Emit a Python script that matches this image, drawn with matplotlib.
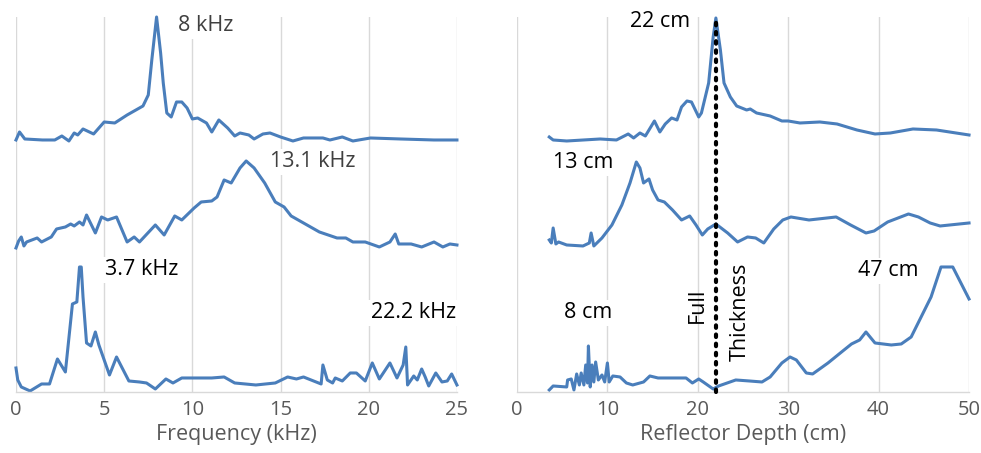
import matplotlib
matplotlib.use("Agg")
import matplotlib.pyplot as plt
import numpy as np

plt.rcParams['font.family'] = ['Open Sans', 'DejaVu Sans']

# ---------------- data (y in arbitrary display units, 0 = axis bottom) ----------------
freq_8k = [0.0, 0.2, 0.5, 1.5, 2.2, 2.6, 3.0, 3.3, 3.5, 3.8, 4.4, 5.0, 5.6, 6.3, 6.8, 7.2, 7.5, 7.7,
           7.97, 8.2, 8.35, 8.55, 8.8, 9.1, 9.4, 9.7, 10.0, 10.3, 10.8, 11.1, 11.5, 12.0, 12.4, 12.7,
           13.2, 13.5, 14.0, 14.4, 15.0, 15.7, 16.3, 17.4, 17.8, 18.5, 19.1, 20.1, 21.8, 23.7, 25.0]
amp_8k = [140, 132, 139, 140, 140, 136, 141, 133, 135, 129, 134, 122, 123, 115, 110, 106, 95, 60,
          17, 53, 83, 113, 117, 102, 102, 108, 119, 118, 123, 132, 120, 128, 136, 133,
          135, 139, 134, 133, 137, 141, 138, 138, 140, 137, 141, 138, 139, 140, 140]

freq_13k = [0.0, 0.15, 0.3, 0.45, 0.6, 1.2, 1.45, 2.0, 2.3, 2.8, 3.1, 3.3, 3.6, 3.8, 4.0, 4.5, 4.85,
            5.2, 5.7, 6.3, 6.7, 7.0, 7.9, 8.4, 9.0, 9.4, 10.1, 10.5, 11.1, 11.4, 11.8, 12.2, 12.7,
            13.05, 13.5, 14.1, 14.7, 15.2, 15.6, 16.5, 17.2, 18.2, 18.7, 19.1, 19.8, 20.6, 21.2,
            21.5, 21.7, 22.4, 23.0, 23.7, 24.2, 24.6, 25.0]
amp_13k = [248, 241, 237, 246, 242, 238, 242, 237, 229, 227, 224, 226, 222, 225, 215, 233, 217,
           220, 217, 242, 237, 242, 225, 235, 216, 220, 208, 202, 201, 197, 180, 183, 168,
           161, 168, 183, 202, 207, 216, 225, 232, 238, 238, 242, 242, 247, 242,
           234, 244, 244, 247, 242, 247, 244, 245]

freq_3k = [0.0, 0.1, 0.3, 0.8, 1.45, 1.9, 2.35, 2.8, 3.2, 3.45, 3.6, 3.7, 3.8, 4.0, 4.25, 4.5,
           4.7, 5.3, 5.7, 6.4, 7.0, 7.4, 7.9, 8.5, 8.9, 9.4, 10.4, 11.1, 11.8, 12.4, 13.6, 14.7,
           15.4, 15.9, 16.3, 17.3, 17.4, 17.65, 17.95, 18.1, 18.5, 18.95, 19.3, 19.8, 20.2, 20.6,
           20.9, 21.2, 21.6, 21.95, 22.1, 22.2, 22.55, 22.75, 23.0, 23.2, 23.4, 23.8, 24.15,
           24.45, 24.7, 25.0]
amp_3k = [368, 380, 387, 391, 384, 384, 359, 372, 304, 302, 267, 267, 297, 343, 346, 332,
          345, 375, 357, 381, 382, 383, 389, 379, 383, 378, 378, 378, 377, 383, 385, 383,
          377, 379, 377, 384, 365, 380, 383, 378, 381, 373, 373, 381, 363, 379,
          371, 363, 378, 365, 347, 385, 376, 380, 369, 377, 386, 373, 382,
          381, 374, 385]

depth_22 = [3.57, 4.0, 5.5, 9.2, 11.0, 12.3, 12.9, 13.6, 14.2, 15.2, 15.8, 16.4, 17.1, 17.7, 18.2,
            18.8, 19.3, 20.1, 20.4, 21.2, 21.7, 22.0, 22.5, 22.9, 23.6, 24.3, 25.4, 25.8, 26.5,
            28.0, 29.3, 30.0, 31.3, 33.5, 35.4, 37.6, 39.6, 41.3, 43.8, 46.4, 50.0]
amp_22 = [137, 140, 141, 139, 140, 134, 138, 133, 136, 121, 132, 124, 118, 120, 107,
          101, 102, 117, 113, 83, 37, 18, 50, 83, 97, 106, 110, 109, 113,
          116, 121, 121, 123, 122, 124, 130, 134, 133, 129, 130, 135]

depth_13 = [3.57, 3.8, 4.0, 4.3, 4.6, 5.5, 7.3, 8.0, 8.2, 8.5, 9.4, 10.5, 11.6, 12.5, 13.2, 13.6,
            14.0, 14.6, 15.0, 15.6, 16.3, 17.2, 18.2, 19.1, 19.8, 20.5, 21.1, 22.0, 23.3, 24.4,
            25.5, 26.4, 27.3, 28.4, 29.4, 30.3, 32.3, 35.3, 36.9, 38.6, 39.5, 41.0, 43.3, 44.4,
            45.7, 46.8, 50.0]
amp_13 = [240, 243, 228, 244, 242, 245, 246, 243, 233, 246, 238, 225, 205, 183, 162, 168,
          183, 179, 190, 200, 202, 210, 220, 216, 225, 235, 229, 224, 233, 242,
          237, 238, 243, 229, 220, 217, 220, 217, 225, 233, 231, 222, 214, 217,
          223, 226, 223]

depth_8 = [3.57, 4.0, 5.5, 5.6, 6.0, 6.3, 6.6, 6.9, 7.1, 7.4, 7.6, 7.8, 7.9, 8.1, 8.3, 8.5, 8.7,
           9.0, 9.4, 9.7, 10.0, 10.2, 10.6, 11.4, 12.1, 12.8, 14.0, 14.7, 15.6, 17.2, 18.7, 19.4,
           20.1, 20.6, 21.7, 22.3, 24.2, 25.7, 27.1, 28.0, 29.3, 30.2, 30.9, 32.0, 32.7, 34.4,
           35.9, 37.0, 37.9, 38.6, 39.6, 41.4, 42.5, 43.6, 44.7, 45.8, 46.9, 48.2, 50.0]
amp_8 = [390, 386, 387, 380, 379, 390, 374, 385, 373, 385, 365, 383, 346, 387, 365, 382, 362,
         380, 375, 382, 363, 382, 376, 377, 383, 385, 382, 376, 378, 378, 378, 383,
         379, 382, 389, 386, 380, 381, 382, 377, 363, 357, 360, 373, 374, 363,
         352, 344, 340, 332, 343, 345, 344, 337, 317, 297, 267, 267, 299]

freq_ticks = [0, 5, 10, 15, 20, 25]
depth_ticks = [0, 10, 20, 30, 40, 50]
full_thickness = 22

Y_TOP = 375.0
BLUE = '#4A7EBB'
GRID = '#D9D9D9'
TICKC = '#595959'


def to_y(v):
    return [Y_TOP - (a - 17) for a in v]


fig = plt.figure(figsize=(9.81, 4.53), dpi=100)
axL = fig.add_axes([0.0163, 0.1347, 0.4495, 0.8278])
axR = fig.add_axes([0.527, 0.1347, 0.4608, 0.8278])

for ax, ticks in ((axL, freq_ticks), (axR, depth_ticks)):
    ax.set_xlim(ticks[0], ticks[-1])
    ax.set_ylim(0, Y_TOP)
    ax.set_xticks(ticks)
    ax.set_yticks([])
    for s in ('left', 'right', 'top'):
        ax.spines[s].set_visible(False)
    ax.spines['bottom'].set_color(GRID)
    ax.spines['bottom'].set_linewidth(1.0)
    ax.tick_params(axis='x', length=0, labelsize=14.5, labelcolor=TICKC, pad=6)
    ax.grid(axis='x', color=GRID, linewidth=1.0)
    ax.set_axisbelow(True)

axL.set_xlabel('Frequency (kHz)', fontsize=15.5, color=TICKC, labelpad=3)
axR.set_xlabel('Reflector Depth (cm)', fontsize=15.5, color=TICKC, labelpad=3)

lw = 2.2
axL.plot(freq_8k, to_y(amp_8k), color=BLUE, lw=lw, clip_on=False)
axL.plot(freq_13k, to_y(amp_13k), color=BLUE, lw=lw, clip_on=False)
axL.plot(freq_3k, to_y(amp_3k), color=BLUE, lw=lw, clip_on=False)

axR.plot(depth_22, to_y(amp_22), color=BLUE, lw=lw, clip_on=False)
axR.plot(depth_13, to_y(amp_13), color=BLUE, lw=lw, clip_on=False)
axR.plot(depth_8, to_y(amp_8), color=BLUE, lw=lw, clip_on=False)

axR.plot([full_thickness, full_thickness], [0, Y_TOP], color='black', lw=3,
         linestyle=(0, (0.6, 1.6)), dash_capstyle='round', clip_on=False, zorder=4)

bbox = dict(facecolor='white', edgecolor='none', pad=1.5)
fs = 15.5
axL.text(9.2, to_y([26])[0], '8 kHz', fontsize=fs, color='#404040', va='center', ha='left', bbox=bbox)
axL.text(14.4, to_y([162])[0], '13.1 kHz', fontsize=fs, color='#404040', va='center', ha='left', bbox=bbox)
axL.text(5.05, to_y([270])[0], '3.7 kHz', fontsize=fs, color='black', va='center', ha='left', bbox=bbox)
axL.text(20.1, to_y([313])[0], '22.2 kHz', fontsize=fs, color='black', va='center', ha='left', bbox=bbox)

axR.text(12.5, to_y([22])[0], '22 cm', fontsize=fs, color='black', va='center', ha='left', bbox=bbox)
axR.text(4.0, to_y([163])[0], '13 cm', fontsize=fs, color='black', va='center', ha='left', bbox=bbox)
axR.text(5.2, to_y([313])[0], '8 cm', fontsize=fs, color='black', va='center', ha='left', bbox=bbox)
axR.text(37.7, to_y([271])[0], '47 cm', fontsize=fs, color='black', va='center', ha='left', bbox=bbox)
axR.text(19.9, to_y([305])[0], 'Full', fontsize=fs, color='black', va='center', ha='center', rotation=90)
axR.text(24.7, to_y([312])[0], 'Thickness', fontsize=fs, color='black', va='center', ha='center', rotation=90)

fig.savefig('out.png', dpi=100, facecolor='white')
